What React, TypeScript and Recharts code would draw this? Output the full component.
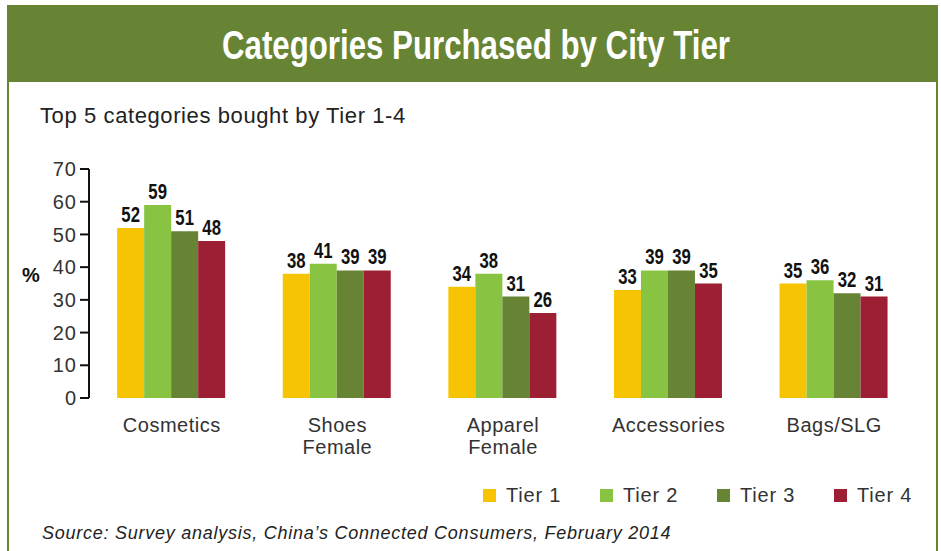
import { Bar, BarChart, LabelList, XAxis, YAxis } from 'recharts'

const categories = ['Cosmetics', 'Shoes\nFemale', 'Apparel\nFemale', 'Accessories', 'Bags/SLG']
const tier1 = [52, 38, 34, 33, 35]
const tier2 = [59, 41, 38, 39, 36]
const tier3 = [51, 39, 31, 39, 32]
const tier4 = [48, 39, 26, 35, 31]
const yTicks = [0, 10, 20, 30, 40, 50, 60, 70]
const boundaryTicks = [0, 1, 2, 3, 4, 5]

const series = [
  { key: 'tier1', name: 'Tier 1', color: '#f7c404' },
  { key: 'tier2', name: 'Tier 2', color: '#88c442' },
  { key: 'tier3', name: 'Tier 3', color: '#678435' },
  { key: 'tier4', name: 'Tier 4', color: '#9c1f33' },
]

const data = categories.map((c, i) => ({
  cat: c, tier1: tier1[i], tier2: tier2[i], tier3: tier3[i], tier4: tier4[i],
}))

const GREEN = '#678435'
const SANS = '"Liberation Sans", Arial, sans-serif'

function CatTick(props: any) {
  const { x, y, payload } = props
  const lines = String(payload.value).split('\n')
  return (
    <text x={x} y={y} textAnchor="middle" fill="#333" fontSize={20} fontFamily={SANS} letterSpacing={0.5}>
      {lines.map((l, i) => (
        <tspan key={i} x={x} dy={i === 0 ? 26 : 22}>{l}</tspan>
      ))}
    </text>
  )
}

// condensed bold look: squeeze Liberation Sans Bold horizontally
function ValueLabel(props: any) {
  const { x, y, width, value } = props
  return (
    <text transform={`translate(${x + width / 2},${y - 6}) scale(0.76,1)`} textAnchor="middle" fill="#111"
      fontSize={22} fontWeight="bold" fontFamily={SANS}>
      {value}
    </text>
  )
}

export default function App() {
  return (
    <div style={{ position: 'absolute', left: 0, top: 0, width: 941, height: 551, background: '#fff', overflow: 'hidden' }}>
      {/* frame */}
      <div style={{ position: 'absolute', left: 7, top: 5, width: 931, height: 600, border: `2px solid ${GREEN}`, borderTop: 'none', boxSizing: 'border-box' }} />
      <svg style={{ position: 'absolute', left: 7, top: 5 }} width={931} height={77}>
        <rect x={0} y={0} width={931} height={77} fill={GREEN} />
        <text x={469} y={54} textAnchor="middle" fill="#fff" fontFamily={SANS} fontWeight="bold"
          fontSize={40} textLength={508} lengthAdjust="spacingAndGlyphs">
          Categories Purchased by City Tier
        </text>
      </svg>
      <div style={{ position: 'absolute', left: 40, top: 103, fontFamily: SANS, fontSize: 22, letterSpacing: 0.6, color: '#222' }}>
        Top 5 categories bought by Tier 1-4
      </div>
      <div style={{ position: 'absolute', left: 22, top: 264, fontFamily: SANS, fontWeight: 'bold', fontSize: 20, color: '#111' }}>
        %
      </div>

      <div style={{ position: 'absolute', left: 0, top: 0 }}>
        <BarChart width={941} height={551} data={data} barGap={0} barCategoryGap="17%"
          margin={{ top: 169, right: 24, left: 29, bottom: 123 }}>
          <XAxis xAxisId="bounds" type="number" domain={[0, 5]} ticks={boundaryTicks}
            height={0} tick={false} tickSize={13} allowDataOverflow
            axisLine={{ stroke: '#111', strokeWidth: 2 }} tickLine={{ stroke: '#111', strokeWidth: 2 }} />
          <XAxis xAxisId="cat" dataKey="cat" height={30} axisLine={false} tickLine={false}
            tick={<CatTick />} interval={0} />
          <YAxis domain={[0, 70]} ticks={yTicks} width={60} interval={0} tickSize={9} tickMargin={3}
            axisLine={{ stroke: '#111', strokeWidth: 2 }} tickLine={{ stroke: '#111', strokeWidth: 2 }}
            tick={{ fill: '#333', fontSize: 20, fontFamily: SANS, letterSpacing: 1 }} />
          {series.map((s) => (
            <Bar key={s.key} xAxisId="cat" dataKey={s.key} name={s.name} fill={s.color} isAnimationActive={false}>
              <LabelList dataKey={s.key} content={<ValueLabel />} />
            </Bar>
          ))}
        </BarChart>
      </div>

      {/* legend */}
      <div style={{ position: 'absolute', left: 483, top: 484, display: 'flex', fontFamily: SANS, fontSize: 20, letterSpacing: 0.8, color: '#333' }}>
        {series.map((s) => (
          <div key={s.key} style={{ display: 'flex', alignItems: 'center', width: 117 }}>
            <span style={{ width: 13, height: 13, background: s.color, display: 'inline-block', marginRight: 10 }} />
            {s.name}
          </div>
        ))}
      </div>
      <div style={{ position: 'absolute', left: 42, top: 523, fontFamily: SANS, fontStyle: 'italic', fontSize: 18, letterSpacing: 0.75, color: '#222' }}>
        Source: Survey analysis, China’s Connected Consumers, February 2014
      </div>
    </div>
  )
}
